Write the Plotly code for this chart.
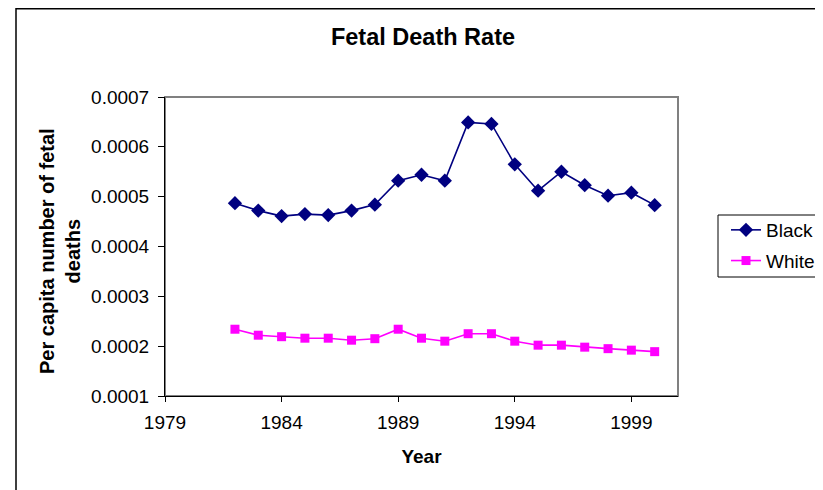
import plotly.graph_objects as go

years = list(range(1982, 2001))
black = [0.000487, 0.000472, 0.000461, 0.000465, 0.000463, 0.000472, 0.000484,
         0.000532, 0.000544, 0.000532, 0.000649, 0.000646, 0.000565, 0.000512,
         0.000550, 0.000523, 0.000502, 0.000508, 0.000483]
white = [0.000234, 0.000222, 0.000219, 0.000216, 0.000216, 0.000212, 0.000215,
         0.000234, 0.000216, 0.000210, 0.000225, 0.000225, 0.000210, 0.000202,
         0.000202, 0.000198, 0.000195, 0.000192, 0.000189]
x_ticks = [1979, 1984, 1989, 1994, 1999]
y_ticks = [0.0001, 0.0002, 0.0003, 0.0004, 0.0005, 0.0006, 0.0007]

FONT = "Liberation Sans, Arial, sans-serif"
OFF = 8  # page body margin
W, H = 815, 482
L, T = 165 - OFF, 97 - OFF
R = W - (678 - OFF)
B = H - (396 - OFF)
pw, ph = W - L - R, H - T - B

def px_x(x):  # page x -> paper
    return (x - OFF - L) / pw

def px_y(y):  # page y -> paper
    return 1 - (y - OFF - T) / ph

fig = go.Figure()
fig.add_trace(go.Scatter(
    x=years, y=black, name="Black", mode="lines+markers",
    line=dict(color="#000080", width=1.6),
    marker=dict(symbol="diamond", size=11, color="#000080"),
    legendgroup="b"))
fig.add_trace(go.Scatter(
    x=years, y=white, name="White", mode="lines+markers",
    line=dict(color="#FF00FF", width=1.6),
    marker=dict(symbol="square", size=9, color="#FF00FF"),
    legendgroup="w"))

fig.update_layout(
    width=W, height=H,
    margin=dict(l=L, r=R, t=T, b=B, autoexpand=False),
    paper_bgcolor="white", plot_bgcolor="white",
    font=dict(family=FONT, size=19, color="black"),
    title=dict(text="<b>Fetal Death Rate</b>", x=(423 - OFF) / W,
               xanchor="center", y=1 - (37 - OFF) / H, yanchor="middle",
               font=dict(size=23.5)),
    showlegend=True,
    legend=dict(x=px_x(726), xanchor="left", y=px_y(211), yanchor="top",
                bgcolor="rgba(0,0,0,0)", borderwidth=0,
                font=dict(size=19), tracegroupgap=3, itemwidth=30),
    xaxis=dict(range=[1979, 2001], tickvals=x_ticks, ticktext=[str(v) for v in x_ticks],
               showline=True, linecolor="black", linewidth=1,
               ticks="outside", ticklen=5, tickcolor="black", ticklabelstandoff=4,
               showgrid=False, zeroline=False,
               title=dict(text="<b>Year</b>", standoff=17, font=dict(size=19))),
    yaxis=dict(range=[0.0001, 0.0007], tickvals=y_ticks,
               ticktext=[f"{v:.4f}" for v in y_ticks],
               showline=True, linecolor="black", linewidth=1,
               ticks="outside", ticklen=6, tickcolor="black", ticklabelstandoff=5,
               showgrid=False, zeroline=False),
    annotations=[dict(text="<b>Per capita number of fetal<br>deaths</b>",
                      xref="paper", yref="paper", x=px_x(60), y=px_y(251),
                      xanchor="center", yanchor="middle", textangle=-90,
                      showarrow=False, font=dict(size=20))],
    shapes=[
        dict(type="rect", xref="paper", yref="paper", x0=0, y0=0, x1=1, y1=1,
             line=dict(color="#808080", width=2), layer="below"),
        dict(type="rect", xref="paper", yref="paper",
             x0=px_x(16), y0=px_y(560), x1=px_x(900), y1=px_y(OFF + 0.75),
             line=dict(color="black", width=1.5), layer="below"),
        dict(type="rect", xref="paper", yref="paper",
             x0=px_x(718), y0=px_y(277), x1=px_x(900), y1=px_y(215),
             line=dict(color="black", width=1), layer="below"),
    ],
)

fig.write_html("out.html")
